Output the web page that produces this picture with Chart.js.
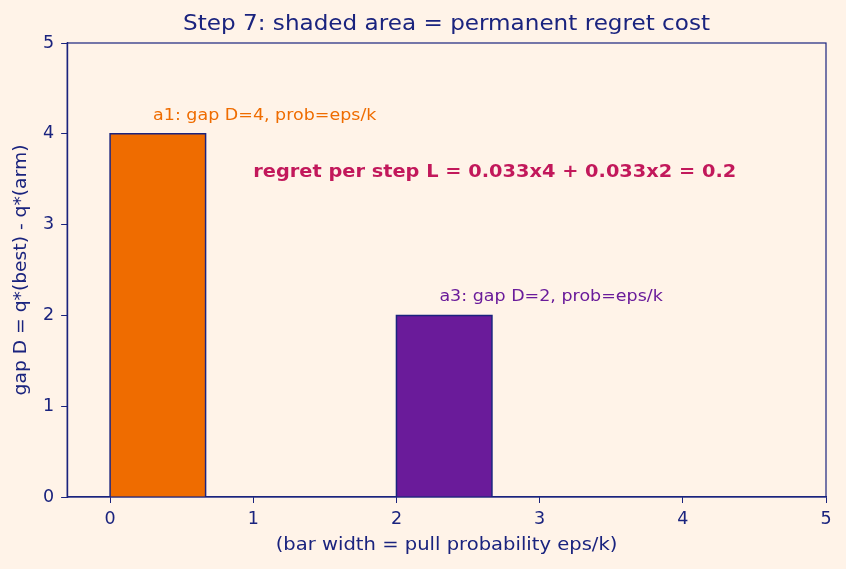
<!DOCTYPE html>
<html lang="en">
<head>
<meta charset="UTF-8">
<title>Step 7: shaded area = permanent regret cost</title>
<script src="https://cdn.jsdelivr.net/npm/chart.js@4.4.1/dist/chart.umd.min.js"></script>
<style>
  html, body { margin: 0; padding: 0; background: #fff3e8; }
  #wrap { width: 846px; height: 569px; }
</style>
</head>
<body>
<div id="wrap"><canvas id="regretChart"></canvas></div>
<script>
// data
const arms = ['a1', 'a3'];
const gaps = [4, 2];
const barStarts = [0, 2];
const barWidths = [0.667, 0.667];
const armLabels = ['a1: gap D=4, prob=eps/k', 'a3: gap D=2, prob=eps/k'];
const xTicks = [0, 1, 2, 3, 4, 5];
const yTicks = [0, 1, 2, 3, 4, 5];
const regretText = 'regret per step L = 0.033x4 + 0.033x2 = 0.2';
const titleText = 'Step 7: shaded area = permanent regret cost';
const xTitle = '(bar width = pull probability eps/k)';
const yTitle = 'gap D = q*(best) - q*(arm)';

const navy = '#1a237e';
const armColors = ['#ef6c00', '#6a1b9a'];
const font = 'DejaVu Sans';
const stretch = 1.1;

const datasets = arms.map(function(a, i) {
    let x0 = barStarts[i], x1 = barStarts[i] + barWidths[i]
    return {
        label: a,
        data: [{x: x0, y: 0}, {x: x0, y: gaps[i]}, {x: x1, y: gaps[i]}, {x: x1, y: 0}],
        borderColor: navy,
        backgroundColor: armColors[i],
        borderWidth: 1.5,
        fill: 'origin',
        pointRadius: 0,
        tension: 0
    }
})

// text a bit wider than plain DejaVu, like the reference
function wideText(ctx, text, x, y, align, angle) {
    ctx.save()
    ctx.translate(x, y)
    if (angle) ctx.rotate(angle)
    ctx.scale(stretch, 1)
    ctx.textAlign = align
    ctx.fillText(text, 0, 0)
    ctx.restore()
}

const textPlugin = {
    id: 'texts',
    beforeDraw(chart) {
        const ctx = chart.ctx
        ctx.save()
        ctx.fillStyle = '#fff3e8'
        ctx.fillRect(0, 0, chart.width, chart.height)
        ctx.restore()
    },
    afterDatasetsDraw(chart) {
        const ctx = chart.ctx
        const xs = chart.scales.x, ys = chart.scales.y
        const area = chart.chartArea
        const cx = (area.left + area.right) / 2
        ctx.save()
        // frame
        ctx.strokeStyle = navy
        ctx.lineWidth = 1.2
        ctx.strokeRect(area.left, area.top, area.right - area.left, area.bottom - area.top)

        ctx.fillStyle = navy
        ctx.font = '21px "' + font + '"'
        ctx.textBaseline = 'alphabetic'
        wideText(ctx, titleText, cx, 30, 'center')

        ctx.font = '17.8px "' + font + '"'
        ctx.textBaseline = 'middle'
        wideText(ctx, xTitle, cx, 545, 'center')
        ctx.font = '17px "' + font + '"'
        wideText(ctx, yTitle, 22, (area.top + area.bottom) / 2, 'center', -Math.PI / 2)

        // arm labels
        ctx.font = '15.9px "' + font + '"'
        arms.forEach(function(a, i) {
            ctx.fillStyle = armColors[i]
            wideText(ctx, armLabels[i], xs.getPixelForValue(barStarts[i] + 0.3), ys.getPixelForValue(gaps[i] + 0.2), 'left')
        })

        ctx.fillStyle = '#c2185b'
        ctx.font = 'bold 17.6px "' + font + '"'
        wideText(ctx, regretText, xs.getPixelForValue(1.0), ys.getPixelForValue(3.57), 'left')
        ctx.restore()
    }
}

Chart.defaults.font.family = font
Chart.defaults.color = navy

new Chart(document.getElementById('regretChart'), {
    type: 'line',
    data: { datasets: datasets },
    options: {
        responsive: true,
        maintainAspectRatio: false,
        animation: false,
        layout: { padding: { top: 43, right: 20, left: 36, bottom: 33 } },
        plugins: { legend: { display: false }, tooltip: { enabled: false } },
        scales: {
            x: {
                type: 'linear',
                min: -0.3,
                max: 5,
                afterBuildTicks(axis) { axis.ticks = xTicks.map(v => ({value: v})) },
                grid: { display: true, drawOnChartArea: false, drawTicks: true, tickLength: 6, color: navy },
                border: { display: true, color: navy, width: 1.2 },
                ticks: { color: navy, font: { size: 17.5 }, padding: 6, maxRotation: 0 }
            },
            y: {
                type: 'linear',
                min: 0,
                max: 5,
                afterBuildTicks(axis) { axis.ticks = yTicks.map(v => ({value: v})) },
                grid: { display: true, drawOnChartArea: false, drawTicks: true, tickLength: 6, color: navy },
                border: { display: true, color: navy, width: 1.2 },
                ticks: { color: navy, font: { size: 17.5 }, padding: 7 }
            }
        }
    },
    plugins: [textPlugin]
})
</script>
</body>
</html>
